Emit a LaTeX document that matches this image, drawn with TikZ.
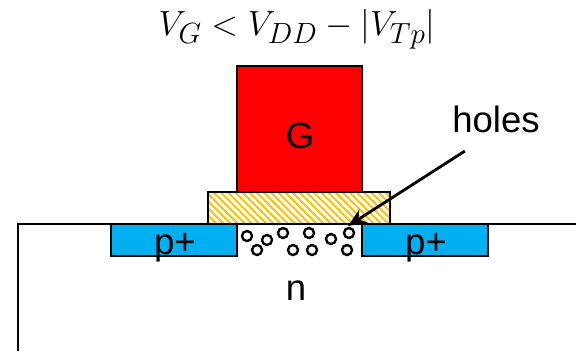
\documentclass[tikz,border=0pt]{standalone}
\usepackage{amsmath}
\usepackage{fontspec}
\setmainfont{Liberation Sans}
\usetikzlibrary{arrows.meta, positioning, patterns.meta}
\definecolor{gatered}{HTML}{FF0000}
\definecolor{pplusblue}{HTML}{00B0F0}
\definecolor{oxideorange}{HTML}{FFC000}

\begin{document}
\begin{tikzpicture}[x=0.025cm, y=-0.025cm,
    every node/.style={font=\fontsize{26}{30}\selectfont},
    region/.style={draw=black, line width=2pt, inner sep=0pt, minimum height=0.8cm},
    holedot/.style={circle, draw=black, fill=white, line width=1.7pt, inner sep=0pt, minimum size=0.25cm},
]
    \useasboundingbox (0, 0) rectangle (576, 351);

    % Body
    \coordinate (bodyend) at (18, 351);
    \coordinate (bodycorner) at (18, 224);
    \coordinate (surfaceend) at (576, 224);
    \draw[line width=2pt] (bodyend) -- (bodycorner) -- (surfaceend);
    \node (nbody) at (296, 291) {n};

    % Gate stack
    \node[region, fill=gatered, minimum width=3.125cm, minimum height=3.15cm] (gate) at (299.5, 129) {};
    \node (gatetext) at (300, 136) {G};
    \node[region, pattern={Lines[angle=-45, distance=3.6pt, line width=1.4pt]}, pattern color=oxideorange,
          minimum width=4.55cm] (oxide) at (299, 208) {};

    % Source and drain
    \node[region, fill=pplusblue, minimum width=3.15cm] (source) at (174, 240) {};
    \node[region, fill=pplusblue, minimum width=3.15cm] (drain) at (425, 240) {};
    \node (sourcetext) at (175, 248) {p+};
    \node (draintext) at (426, 248) {p+};

    % Holes in the channel
    \foreach \i/\px/\py in {1/247/236, 2/267/240, 3/257/250, 4/283/233, 5/293/250,
                            6/309/233, 7/312/250, 8/331/239, 9/349/233, 10/347/250} {
        \node[holedot] (hole\i) at (\px, \py) {};
    }

    % Label and arrow
    \node (holes) at (496, 119) {holes};
    \coordinate (holetip) at (348, 226);
    \draw[-{Stealth[length=13pt, width=11pt]}, line width=2pt, shorten <=18pt] ([xshift=-7pt]holes.south) -- (holetip);

    % Condition
    \node[font=\fontsize{27.5}{30}\selectfont] (condition) at (297, 29) {$V_G < V_{DD} - |V_{Tp}|$};
\end{tikzpicture}
\end{document}
